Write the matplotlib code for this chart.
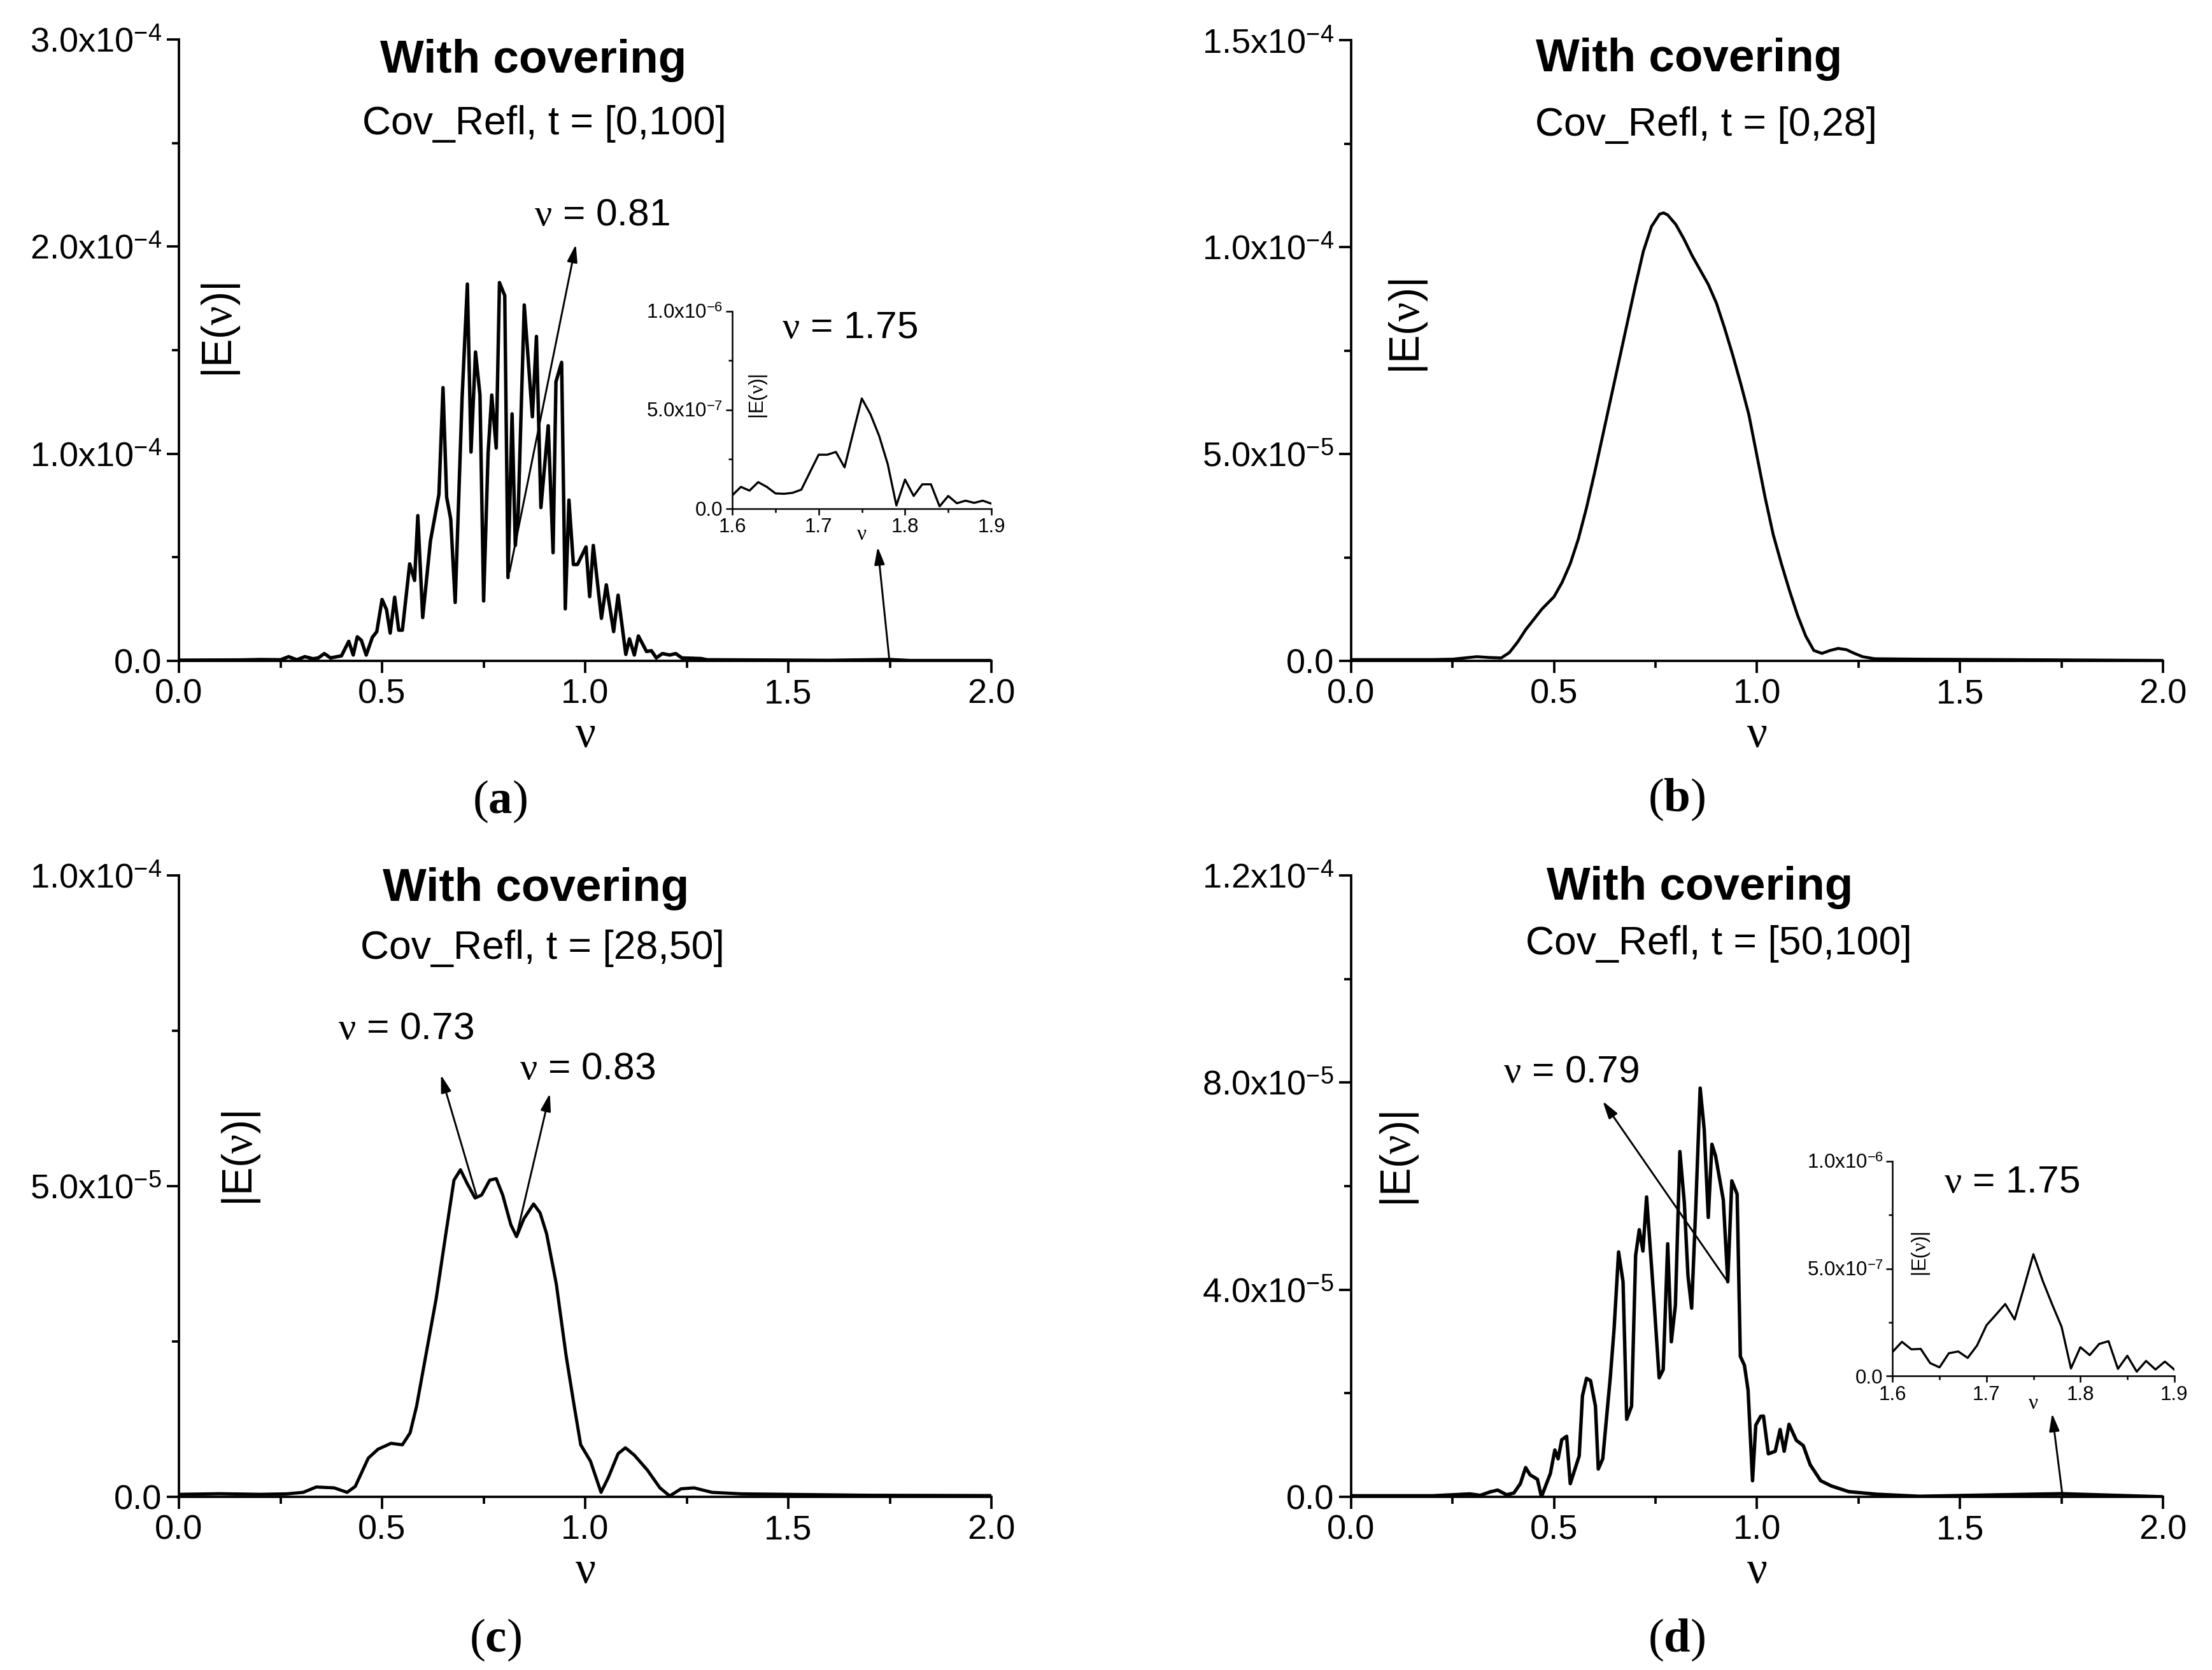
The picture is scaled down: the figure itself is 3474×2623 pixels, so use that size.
import matplotlib
matplotlib.use("Agg")
import numpy as np
import matplotlib.pyplot as plt
from matplotlib import font_manager
from matplotlib.ticker import MultipleLocator, FuncFormatter

names = {f.name for f in font_manager.fontManager.ttflist}
sans = "Liberation Sans" if "Liberation Sans" in names else "DejaVu Sans"
serif = "Liberation Serif" if "Liberation Serif" in names else "DejaVu Serif"

plt.rcParams["font.family"] = [sans, "DejaVu Sans"]
plt.rcParams["mathtext.fontset"] = "custom"
plt.rcParams["mathtext.rm"] = sans
plt.rcParams["mathtext.it"] = serif
plt.rcParams["mathtext.bf"] = serif + ":bold"

# ---- data (E in units noted per panel) ----
# (a) t = [0,100], E in 1e-4
a_nu = [0.0, 0.15, 0.20, 0.25, 0.27, 0.29, 0.31, 0.33, 0.343, 0.358, 0.373, 0.40, 0.418, 0.429,
        0.439, 0.449, 0.461, 0.476, 0.487, 0.50, 0.511, 0.52, 0.531, 0.541, 0.55, 0.568,
        0.58, 0.588, 0.60, 0.619, 0.64, 0.65, 0.659, 0.669, 0.68, 0.697, 0.71, 0.719,
        0.73, 0.741, 0.75, 0.761, 0.77, 0.781, 0.789, 0.802, 0.81, 0.82, 0.828, 0.835,
        0.85, 0.87, 0.88, 0.891, 0.909, 0.921, 0.928, 0.942, 0.951, 0.96, 0.971, 0.981,
        1.002, 1.011, 1.02, 1.04, 1.052, 1.07, 1.081, 1.10, 1.109, 1.121, 1.131, 1.151,
        1.163, 1.175, 1.19, 1.208, 1.223, 1.238, 1.285, 1.30, 1.40, 1.60, 1.75, 1.80, 2.0]
a_E = [0.003, 0.004, 0.006, 0.005, 0.02, 0.005, 0.02, 0.01, 0.014, 0.035, 0.014, 0.024, 0.094, 0.028,
       0.116, 0.099, 0.028, 0.113, 0.141, 0.296, 0.247, 0.134, 0.307, 0.148, 0.148, 0.468,
       0.388, 0.701, 0.209, 0.578, 0.804, 1.319, 0.790, 0.684, 0.282, 1.270, 1.819, 1.008,
       1.491, 1.283, 0.289, 1.001, 1.283, 1.027, 1.826, 1.763, 0.402, 1.192, 0.557, 0.712,
       1.718, 1.178, 1.566, 0.740, 1.135, 0.522, 1.347, 1.441, 0.251, 0.776, 0.465, 0.465,
       0.550, 0.310, 0.557, 0.205, 0.367, 0.141, 0.317, 0.031, 0.106, 0.028, 0.120, 0.045,
       0.049, 0.014, 0.035, 0.028, 0.035, 0.014, 0.011, 0.005, 0.004, 0.002, 0.006, 0.001, 0.001]

# (a) inset, E in 1e-6
ia_nu = [1.60, 1.61, 1.62, 1.63, 1.64, 1.65, 1.66, 1.67, 1.68, 1.69, 1.70, 1.71, 1.72, 1.73, 1.74,
         1.75, 1.76, 1.77, 1.78, 1.79, 1.80, 1.81, 1.82, 1.83, 1.84, 1.85, 1.86, 1.87, 1.88, 1.89, 1.90]
ia_E = [0.067, 0.110, 0.091, 0.134, 0.110, 0.077, 0.075, 0.080, 0.096, 0.185, 0.273, 0.273, 0.287,
        0.209, 0.385, 0.558, 0.478, 0.369, 0.225, 0.016, 0.147, 0.064, 0.123, 0.123, 0.011, 0.064,
        0.027, 0.040, 0.029, 0.040, 0.025]

# (b) t = [0,28], E in 1e-5
b_nu = [0.0, 0.10, 0.20, 0.25, 0.28, 0.31, 0.34, 0.37, 0.39, 0.41, 0.43, 0.45, 0.47, 0.49, 0.50,
        0.52, 0.54, 0.56, 0.58, 0.60, 0.62, 0.64, 0.66, 0.68, 0.70, 0.72, 0.74, 0.76, 0.77, 0.78,
        0.80, 0.82, 0.84, 0.86, 0.88, 0.90, 0.92, 0.94, 0.96, 0.98, 1.00, 1.02, 1.04, 1.06, 1.08,
        1.10, 1.12, 1.14, 1.16, 1.18, 1.20, 1.22, 1.24, 1.26, 1.29, 1.40, 1.60, 1.80, 2.00]
b_E = [0.03, 0.03, 0.03, 0.04, 0.07, 0.10, 0.08, 0.07, 0.20, 0.45, 0.75, 1.00, 1.25, 1.45, 1.55,
       1.90, 2.35, 2.95, 3.70, 4.55, 5.45, 6.35, 7.25, 8.15, 9.05, 9.90, 10.50, 10.80, 10.83, 10.78,
       10.55, 10.20, 9.80, 9.45, 9.10, 8.65, 8.05, 7.40, 6.70, 5.95, 4.95, 3.95, 3.05, 2.35, 1.70,
       1.10, 0.60, 0.25, 0.18, 0.25, 0.30, 0.27, 0.18, 0.10, 0.05, 0.04, 0.03, 0.02, 0.01]

# (c) t = [28,50], E in 1e-5
c_nu = [0.0, 0.10, 0.20, 0.266, 0.306, 0.338, 0.382, 0.414, 0.434, 0.466, 0.49, 0.522, 0.55,
        0.569, 0.585, 0.609, 0.633, 0.657, 0.677, 0.693, 0.709, 0.729, 0.745, 0.765, 0.781,
        0.797, 0.817, 0.831, 0.849, 0.873, 0.889, 0.905, 0.929, 0.953, 0.973, 0.989, 1.013,
        1.039, 1.057, 1.081, 1.099, 1.121, 1.153, 1.184, 1.208, 1.236, 1.268, 1.312, 1.384,
        1.518, 1.70, 2.0]
c_E = [0.04, 0.05, 0.04, 0.048, 0.072, 0.158, 0.144, 0.072, 0.167, 0.622, 0.766, 0.861, 0.837,
       1.029, 1.459, 2.321, 3.182, 4.234, 5.096, 5.263, 5.048, 4.809, 4.856, 5.096, 5.120,
       4.856, 4.378, 4.187, 4.474, 4.713, 4.569, 4.234, 3.421, 2.273, 1.459, 0.837, 0.574,
       0.072, 0.311, 0.694, 0.789, 0.670, 0.431, 0.144, 0.014, 0.129, 0.144, 0.072, 0.048,
       0.038, 0.025, 0.02]

# (d) t = [50,100], E in 1e-5
d_nu = [0.0, 0.20, 0.293, 0.318, 0.343, 0.361, 0.383, 0.401, 0.417, 0.43, 0.441, 0.459, 0.469,
        0.491, 0.502, 0.51, 0.519, 0.531, 0.54, 0.562, 0.57, 0.58, 0.59, 0.602, 0.609, 0.62,
        0.639, 0.648, 0.659, 0.67, 0.679, 0.691, 0.701, 0.71, 0.719, 0.728, 0.747, 0.759,
        0.769, 0.78, 0.789, 0.799, 0.81, 0.821, 0.83, 0.839, 0.849, 0.86, 0.87, 0.88, 0.889,
        0.898, 0.917, 0.928, 0.938, 0.951, 0.959, 0.969, 0.978, 0.989, 0.997, 1.009, 1.016,
        1.028, 1.045, 1.057, 1.067, 1.079, 1.097, 1.114, 1.131, 1.157, 1.183, 1.226, 1.295,
        1.40, 1.75, 2.0]
d_E = [0.02, 0.02, 0.056, 0.028, 0.096, 0.130, 0.040, 0.073, 0.254, 0.565, 0.424, 0.339, 0.0,
       0.452, 0.904, 0.734, 1.102, 1.169, 0.254, 0.791, 1.949, 2.288, 2.243, 1.751, 0.537, 0.734,
       2.345, 3.249, 4.729, 4.153, 1.497, 1.751, 4.661, 5.158, 4.746, 5.791, 3.701, 2.299,
       2.458, 4.887, 2.994, 3.701, 6.667, 5.678, 4.266, 3.644, 5.565, 7.893, 7.09, 5.395, 6.808,
       6.582, 5.734, 4.153, 6.102, 5.847, 2.712, 2.542, 2.062, 0.311, 1.384, 1.554, 1.56,
       0.83, 0.88, 1.30, 0.88, 1.40, 1.09, 0.99, 0.62, 0.31, 0.21, 0.10, 0.05,
       0.01, 0.06, 0.0]

# (d) inset, E in 1e-6
id_nu = ia_nu
id_E = [0.112, 0.159, 0.124, 0.126, 0.060, 0.040, 0.106, 0.114, 0.084, 0.142, 0.236, 0.285, 0.335,
        0.263, 0.413, 0.567, 0.442, 0.333, 0.229, 0.035, 0.134, 0.097, 0.149, 0.162, 0.033, 0.094,
        0.020, 0.070, 0.030, 0.067, 0.030]

titles = ["Cov_Refl, t = [0,100]", "Cov_Refl, t = [0,28]",
          "Cov_Refl, t = [28,50]", "Cov_Refl, t = [50,100]"]
letters = ["a", "b", "c", "d"]


def sci(v, pos):
    if abs(v) < 1e-15:
        return "0.0"
    m, e = f"{v:.1e}".split("e")
    return m + "x10$^{" + str(int(e)) + "}$"


def style(ax, ymax, ymaj, lw_sp=0.9, tsize=13, tlen=4.5):
    for s in ["top", "right"]:
        ax.spines[s].set_visible(False)
    for s in ["left", "bottom"]:
        ax.spines[s].set_linewidth(lw_sp)
    ax.set_ylim(0, ymax)
    ax.yaxis.set_major_locator(MultipleLocator(ymaj))
    ax.yaxis.set_minor_locator(MultipleLocator(ymaj / 2))
    ax.yaxis.set_major_formatter(FuncFormatter(sci))
    ax.tick_params(which="major", direction="out", length=tlen, width=lw_sp, labelsize=tsize, pad=2)
    ax.tick_params(which="minor", direction="out", length=tlen * 0.6, width=lw_sp)


W, H = 3474, 2623
fig = plt.figure(figsize=(W / 300, H / 300), dpi=300)

boxes = [[0.0809, 0.6043, 0.3673, 0.3721], [0.6108, 0.6043, 0.3670, 0.3715],
         [0.0809, 0.1037, 0.3673, 0.3721], [0.6108, 0.1037, 0.3670, 0.3721]]
axs = [fig.add_axes(b) for b in boxes]

series = [(a_nu, np.array(a_E) * 1e-4, 3e-4, 1e-4, 1.3),
          (b_nu, np.array(b_E) * 1e-5, 1.5e-4, 5e-5, 1.1),
          (c_nu, np.array(c_E) * 1e-5, 1e-4, 5e-5, 1.2),
          (d_nu, np.array(d_E) * 1e-5, 1.2e-4, 4e-5, 1.3)]

title_pos = [(0.873, 0.966, 0.9, 0.864), (0.833, 0.97, 0.874, 0.864),
             (0.879, 0.978, 0.895, 0.883), (0.859, 0.981, 0.906, 0.89)]
ylab_pos = [(0.052, 0.531), (0.071, 0.538), (0.077, 0.544), (0.06, 0.543)]
lab_pos = [(0.226, 0.52), (0.758, 0.521), (0.224, 0.018), (0.758, 0.018)]

for i, ax in enumerate(axs):
    nu, E, ymax, ymaj, lw = series[i]
    ax.plot(nu, E, color="black", lw=lw, solid_joinstyle="round")
    ax.set_xlim(0, 2.0)
    ax.xaxis.set_major_locator(MultipleLocator(0.5))
    ax.xaxis.set_minor_locator(MultipleLocator(0.25))
    ax.xaxis.set_major_formatter(FuncFormatter(lambda v, p: f"{v:.1f}"))
    style(ax, ymax, ymaj)
    tx, ty, sx, sy = title_pos[i]
    trans = ax.get_xaxis_transform()
    ax.text(tx, ty, "With covering", transform=trans, ha="center", va="center",
            fontsize=17.5, fontweight="bold")
    ax.text(sx, sy, titles[i], transform=trans, ha="center", va="center", fontsize=15)
    lx, ly = ylab_pos[i]
    ax.text(lx, ly, r"|E($\nu$)|", transform=ax.transAxes, rotation=90,
            ha="center", va="center", fontsize=16)
    ax.text(0.5, -0.12, r"$\nu$", transform=ax.transAxes, ha="center", va="center", fontsize=17)
    px, py = lab_pos[i]
    fig.text(px, py, "($\\mathbf{" + letters[i] + "}$)", ha="center", va="center",
             fontsize=18, family=serif)

arrow = dict(arrowstyle="-|>,head_length=0.55,head_width=0.16", color="black", lw=0.7,
             mutation_scale=10, shrinkA=0, shrinkB=0)
afs = 14.5

# (a)
ax = axs[0]
ax.annotate("", xy=(0.977, 2.01e-4), xytext=(0.814, 0.43e-4), arrowprops=arrow)
ax.text(0.875, 2.15e-4, r"$\nu$ = 0.81", ha="left", va="center", fontsize=afs)
ax.annotate("", xy=(1.72, 0.55e-4), xytext=(1.749, 0.0), arrowprops=arrow)

# (c)
ax = axs[2]
ax.annotate("", xy=(0.645, 6.79e-5), xytext=(0.732, 4.86e-5), arrowprops=arrow)
ax.annotate("", xy=(0.913, 6.49e-5), xytext=(0.833, 4.26e-5), arrowprops=arrow)
ax.text(0.392, 7.53e-5, r"$\nu$ = 0.73", ha="left", va="center", fontsize=afs)
ax.text(0.838, 6.88e-5, r"$\nu$ = 0.83", ha="left", va="center", fontsize=afs)

# (d)
ax = axs[3]
ax.annotate("", xy=(0.620, 7.64e-5), xytext=(0.928, 4.15e-5), arrowprops=arrow)
ax.text(0.375, 8.2e-5, r"$\nu$ = 0.79", ha="left", va="center", fontsize=afs)
ax.annotate("", xy=(1.727, 1.61e-5), xytext=(1.753, 0.0), arrowprops=arrow)

# insets
insets = [(axs[0], [0.681, 0.245, 0.319, 0.3175], ia_nu, ia_E, (1.736, 0.914)),
          (axs[3], [0.667, 0.1945, 0.347, 0.3455], id_nu, id_E, (1.727, 0.90))]
for parent, box, nu, E, (tx, ty) in insets:
    ins = parent.inset_axes(box)
    ins.plot(nu, np.array(E) * 1e-6, color="black", lw=0.8)
    ins.set_xlim(1.6, 1.9)
    ins.xaxis.set_major_locator(MultipleLocator(0.1))
    ins.xaxis.set_minor_locator(MultipleLocator(0.05))
    ins.xaxis.set_major_formatter(FuncFormatter(lambda v, p: f"{v:.1f}"))
    style(ins, 1e-6, 5e-7, lw_sp=0.6, tsize=7.5, tlen=2.5)
    ins.tick_params(which="both", pad=1)
    ins.text(tx, ty * 1e-6, r"$\nu$ = 1.75", ha="center", va="center", fontsize=afs)
    ins.text(0.1, 0.57, r"|E($\nu$)|", transform=ins.transAxes, rotation=90,
             ha="center", va="center", fontsize=7.5)
    ins.text(0.5, -0.13, r"$\nu$", transform=ins.transAxes, ha="center", va="center", fontsize=8)

fig.savefig("out.png", dpi=300)
